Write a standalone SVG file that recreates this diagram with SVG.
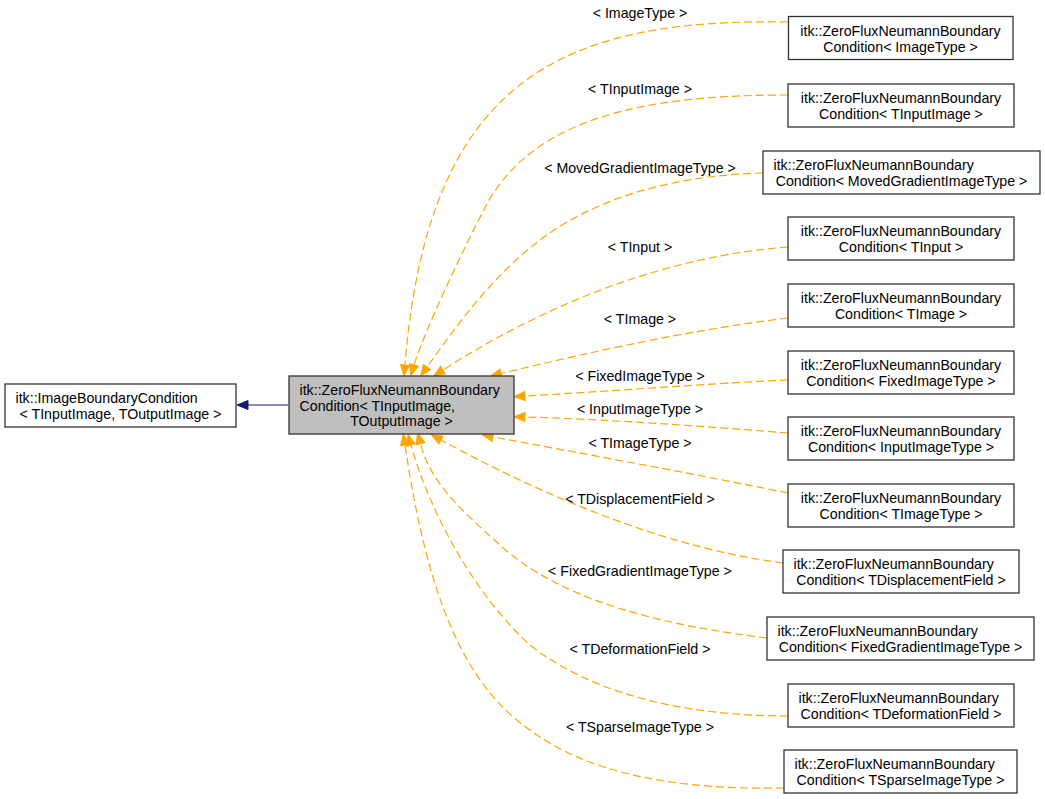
<svg xmlns="http://www.w3.org/2000/svg" width="1045" height="799" viewBox="0 0 1045 799">
<style>
text{font-family:"Liberation Sans",Arial,sans-serif;font-size:14.2px;fill:#000}
.n rect{fill:#fff;stroke:#333;stroke-width:1.3}
.n rect.main{fill:#bfbfbf}
.m{text-anchor:middle}
.lbl{text-anchor:middle}
.e{fill:none;stroke:#ffa500;stroke-width:1.2;stroke-dasharray:8,4}
.inh{fill:none;stroke:#191970;stroke-width:1.2}
</style>
<defs>
<marker id="ao" markerUnits="userSpaceOnUse" markerWidth="14" markerHeight="12" refX="0" refY="4.5" orient="auto" overflow="visible"><path d="M0,0 L11,4.5 L0,9 z" fill="#ffa500" stroke="#ffa500" stroke-width="1"/></marker>
<marker id="an" markerUnits="userSpaceOnUse" markerWidth="14" markerHeight="12" refX="0" refY="4.5" orient="auto" overflow="visible"><path d="M0,0 L11,4.5 L0,9 z" fill="#191970" stroke="#191970" stroke-width="1"/></marker>
</defs>
<rect width="1045" height="799" fill="#fff"/>
<g id="connectors">
<path class="inh" d="M288,405 L248,405" marker-end="url(#an)"/>
<path class="e" d="M788,22 C 560,18 428,80 405,365" marker-end="url(#ao)"/>
<path class="e" d="M788,95 C 650,95 540,115 489,200 C 465,245 425,330 414,365" marker-end="url(#ao)"/>
<path class="e" d="M763,173 C 680,175 600,195 540,240 C 490,278 455,328 427,367" marker-end="url(#ao)"/>
<path class="e" d="M788,247 C 680,255 560,295 443,370" marker-end="url(#ao)"/>
<path class="e" d="M788,318 C 690,330 590,352 501,373.5" marker-end="url(#ao)"/>
<path class="e" d="M788,380 C 700,384 600,392 525,396" marker-end="url(#ao)"/>
<path class="e" d="M788,433 C 700,426 600,419 525,417" marker-end="url(#ao)"/>
<path class="e" d="M788,493 C 700,475 575,452 493,437" marker-end="url(#ao)"/>
<path class="e" d="M783,563 C 680,550 560,505 441,440" marker-end="url(#ao)"/>
<path class="e" d="M767,638 C 660,625 560,600 500,545 C 455,505 430,480 420.5,443.6" marker-end="url(#ao)"/>
<path class="e" d="M788,716 C 700,716 600,700 530,645 C 480,600 432,520 411,445" marker-end="url(#ao)"/>
<path class="e" d="M784,788 C 680,790 590,775 530,730 C 465,685 428,600 405,445" marker-end="url(#ao)"/>
<text class="lbl" x="640" y="17.5">&lt; ImageType &gt;</text>
<text class="lbl" x="640" y="94">&lt; TInputImage &gt;</text>
<text class="lbl" x="640" y="173">&lt; MovedGradientImageType &gt;</text>
<text class="lbl" x="640" y="251.5">&lt; TInput &gt;</text>
<text class="lbl" x="640" y="323.5">&lt; TImage &gt;</text>
<text class="lbl" x="640" y="380.5">&lt; FixedImageType &gt;</text>
<text class="lbl" x="640" y="413.5">&lt; InputImageType &gt;</text>
<text class="lbl" x="640" y="448">&lt; TImageType &gt;</text>
<text class="lbl" x="640" y="504">&lt; TDisplacementField &gt;</text>
<text class="lbl" x="640" y="576">&lt; FixedGradientImageType &gt;</text>
<text class="lbl" x="640" y="653.5">&lt; TDeformationField &gt;</text>
<text class="lbl" x="640" y="731.5">&lt; TSparseImageType &gt;</text>
</g>
<g id="base" class="n">
<rect x="5" y="384" width="231" height="43"/>
<text x="15.5" y="403">itk::ImageBoundaryCondition</text>
<text class="m" x="120.5" y="418.5">&lt; TInputImage, TOutputImage &gt;</text>
</g>
<g id="main" class="n">
<rect class="main" x="289" y="376" width="225" height="58"/>
<text x="299.5" y="395.2">itk::ZeroFluxNeumannBoundary</text>
<text x="299.5" y="410.7">Condition&lt; TInputImage,</text>
<text class="m" x="401.5" y="426.2">TOutputImage &gt;</text>
</g>
<g id="n1" class="n">
<rect x="788.5" y="16.5" width="224.5" height="43"/>
<text class="m" x="900.5" y="36">itk::ZeroFluxNeumannBoundary</text>
<text class="m" x="900.5" y="51.5">Condition&lt; ImageType &gt;</text>
</g>
<g id="n2" class="n">
<rect x="788" y="84" width="226" height="43"/>
<text class="m" x="901" y="103">itk::ZeroFluxNeumannBoundary</text>
<text class="m" x="901" y="118.5">Condition&lt; TInputImage &gt;</text>
</g>
<g id="n3" class="n">
<rect x="763" y="151" width="277" height="43"/>
<text x="773.5" y="170">itk::ZeroFluxNeumannBoundary</text>
<text class="m" x="901.5" y="185.5">Condition&lt; MovedGradientImageType &gt;</text>
</g>
<g id="n4" class="n">
<rect x="788" y="217" width="226" height="43"/>
<text class="m" x="901" y="236">itk::ZeroFluxNeumannBoundary</text>
<text class="m" x="901" y="251.5">Condition&lt; TInput &gt;</text>
</g>
<g id="n5" class="n">
<rect x="788" y="284" width="226" height="43"/>
<text class="m" x="901" y="303">itk::ZeroFluxNeumannBoundary</text>
<text class="m" x="901" y="318.5">Condition&lt; TImage &gt;</text>
</g>
<g id="n6" class="n">
<rect x="788" y="351" width="226" height="43"/>
<text class="m" x="901" y="370">itk::ZeroFluxNeumannBoundary</text>
<text class="m" x="901" y="385.5">Condition&lt; FixedImageType &gt;</text>
</g>
<g id="n7" class="n">
<rect x="788" y="417" width="226" height="43"/>
<text class="m" x="901" y="436">itk::ZeroFluxNeumannBoundary</text>
<text class="m" x="901" y="451.5">Condition&lt; InputImageType &gt;</text>
</g>
<g id="n8" class="n">
<rect x="788" y="484" width="226" height="43"/>
<text class="m" x="901" y="503">itk::ZeroFluxNeumannBoundary</text>
<text class="m" x="901" y="518.5">Condition&lt; TImageType &gt;</text>
</g>
<g id="n9" class="n">
<rect x="783" y="550" width="236" height="43"/>
<text x="793.5" y="569">itk::ZeroFluxNeumannBoundary</text>
<text class="m" x="901" y="584.5">Condition&lt; TDisplacementField &gt;</text>
</g>
<g id="n10" class="n">
<rect x="767" y="617" width="267" height="43"/>
<text x="777.5" y="636">itk::ZeroFluxNeumannBoundary</text>
<text class="m" x="900.5" y="651.5">Condition&lt; FixedGradientImageType &gt;</text>
</g>
<g id="n11" class="n">
<rect x="788" y="684" width="226" height="43"/>
<text x="798.5" y="703">itk::ZeroFluxNeumannBoundary</text>
<text class="m" x="901" y="718.5">Condition&lt; TDeformationField &gt;</text>
</g>
<g id="n12" class="n">
<rect x="784" y="750" width="233" height="43"/>
<text x="794.5" y="769">itk::ZeroFluxNeumannBoundary</text>
<text class="m" x="900.5" y="784.5">Condition&lt; TSparseImageType &gt;</text>
</g>
</svg>
